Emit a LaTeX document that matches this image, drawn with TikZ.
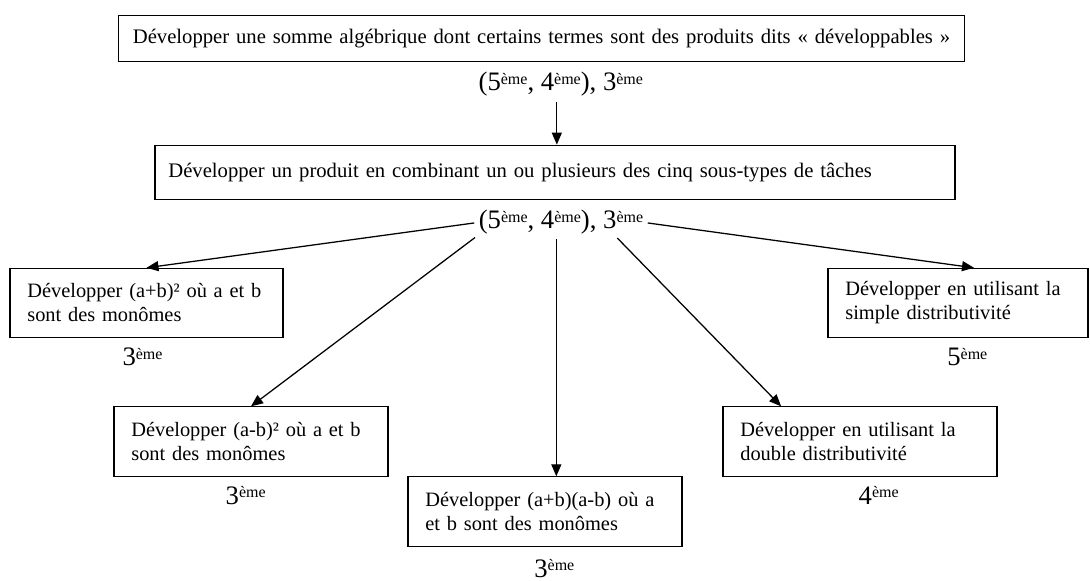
\documentclass[tikz,border=0pt]{standalone}
\usepackage{fontspec}
\setmainfont{Liberation Serif}
\usetikzlibrary{arrows.meta, positioning}

\newcommand{\grand}[1]{{\fontsize{20}{20}\selectfont #1}}
\newcommand{\niv}[1]{\grand{#1}\raisebox{5pt}{\fontsize{12}{12}\selectfont ème}}

\begin{document}
\begin{tikzpicture}[
    x=0.75pt, y=-0.75pt,
    >={Triangle[length=9pt,width=7.5pt]},
    line width=0.95pt,
    tache/.style={draw, line width=0.8pt, align=left, inner xsep=13pt, inner ysep=0pt,
      minimum height=52pt, font=\fontsize{15.3}{18}\selectfont},
    niveau/.style={inner sep=0pt, font=\fontsize{15}{18}\selectfont}
  ]
  \useasboundingbox (0,0) rectangle (1090,581);

  % --- TYPES DE TACHES ---
  \node[tache, align=center, inner xsep=4pt, text width=627pt, minimum height=35pt,
    font=\fontsize{15.5}{18}\selectfont] (somme) at (541.5,38.5)
    {Développer une somme algébrique dont certains termes sont des produits dits « développables »};
  \node[niveau, below=7pt of somme, xshift=14.5pt] (nsomme)
    {\grand{(}\niv{5}\grand{, }\niv{4}\grand{), }\niv{3}};

  \node[tache, inner xsep=10pt, text width=580pt, minimum height=41pt,
    font=\fontsize{15.5}{18}\selectfont] (produit) at (555,172.5)
    {Développer un produit en combinant un ou plusieurs des cinq sous-types de tâches};
  \node[niveau, below=7pt of produit, xshift=4.5pt] (nproduit)
    {\grand{(}\niv{5}\grand{, }\niv{4}\grand{), }\niv{3}};

  % --- SOUS-TYPES ---
  \node[tache, text width=178.75pt] (carreplus) at (146.5,303)
    {Développer (a+b)² où a et b\\ sont des monômes};
  \node[tache, text width=179.5pt] (carremoins) at (251,441.5)
    {Développer (a-b)² où a et b\\ sont des monômes};
  \node[tache, text width=179.5pt] (ident) at (545,511.5)
    {Développer (a+b)(a-b) où a\\ et b sont des monômes};
  \node[tache, text width=179.5pt] (double) at (860,441.5)
    {Développer en utilisant la\\ double distributivité};
  \node[tache, text width=169pt] (simple) at (958,303)
    {Développer en utilisant la\\ simple distributivité};

  % --- NIVEAUX ---
  \node[niveau, below=7pt of carreplus, xshift=-3pt] (ncarreplus) {\niv{3}};
  \node[niveau, below=7pt of carremoins, xshift=-4pt] (ncarremoins) {\niv{3}};
  \node[niveau, below=9pt of ident, xshift=7pt] (nident) {\niv{3}};
  \node[niveau, below=7pt of double, xshift=14pt] (ndouble) {\niv{4}};
  \node[niveau, below=7pt of simple, xshift=7pt] (nsimple) {\niv{5}};

  % --- FLECHES ---
  \draw[->, shorten <=4pt] ([xshift=-3pt]nsomme.south) -- ([xshift=-3pt]nsomme.south |- produit.north);
  \draw[->, shorten <=3pt] (nproduit.west) -- (carreplus.north);
  \draw[->, shorten <=3pt] (nproduit.south west) -- (carremoins.north);
  \draw[->, shorten <=3pt] ([xshift=-3.5pt]nproduit.south) -- ([xshift=-3.5pt]nproduit.south |- ident.north);
  \draw[->, shorten <=3pt] ([xshift=-22pt]nproduit.south east) -- ([xshift=44pt]double.north west);
  \draw[->, shorten <=3pt] (nproduit.east) -- ([xshift=12pt]simple.north);
\end{tikzpicture}
\end{document}
